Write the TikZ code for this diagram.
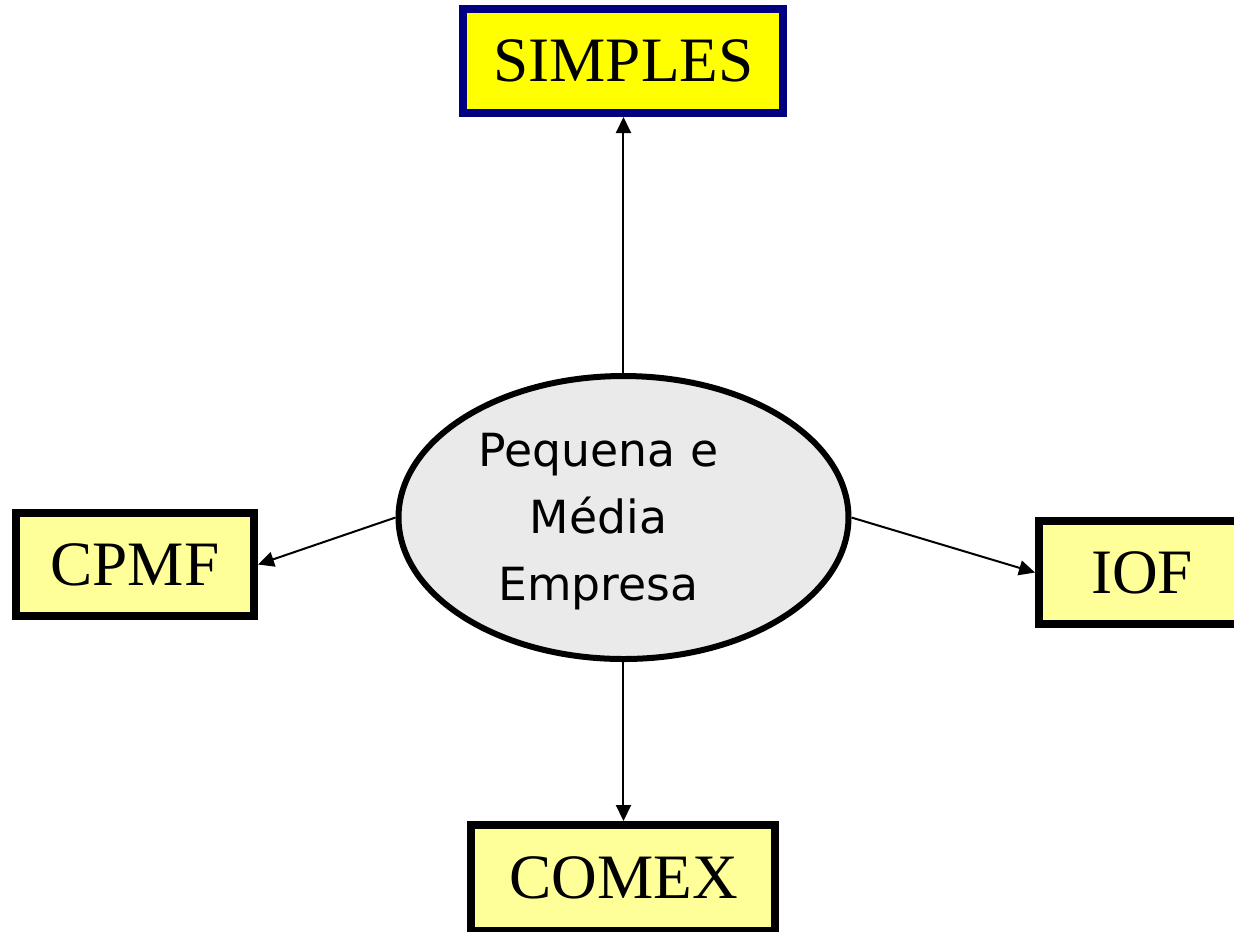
\documentclass[tikz,border=0pt]{standalone}
\usepackage{fontspec}
\setmainfont{Liberation Serif}
\newfontfamily\handfont{DejaVu Sans}
\usetikzlibrary{positioning,calc,arrows.meta,shapes.geometric}
\definecolor{paleyellow}{HTML}{FFFF99}
\definecolor{brightyellow}{HTML}{FFFF00}
\definecolor{navyblue}{HTML}{000080}
\definecolor{ovalgray}{HTML}{EAEAEA}

\begin{document}
\begin{tikzpicture}[>={Triangle[length=0.16cm,width=0.15cm]},
  tax box/.style={rectangle,draw=black,fill=paleyellow,line width=0.08cm,inner sep=0pt,font=\fontsize{18}{20}\selectfont},
  core oval/.style={ellipse,draw=black,fill=ovalgray,line width=0.06cm,inner sep=0pt,minimum width=4.5cm,minimum height=2.83cm},
  link/.style={->,line width=0.02cm}]
  \useasboundingbox (0,0) rectangle (12.34,-9.31);
% nodes
  \node[core oval] (pme) at (6.235,-5.175) {};
  \node[align=center,font=\handfont\fontsize{13}{19}\selectfont] (pmetext) at ([xshift=-0.25cm,yshift=-0.04cm]pme.center) {Pequena e\\Média\\Empresa};
  \node[tax box,draw=navyblue,fill=brightyellow,minimum width=3.2cm,minimum height=1.04cm] (simples) at (6.235,-0.61) {SIMPLES};
  \node[tax box,minimum width=2.38cm,minimum height=1.03cm] (cpmf) at (1.35,-5.645) {CPMF};
  \node[tax box,minimum width=2.06cm,minimum height=1.03cm] (iof) at (11.42,-5.725) {IOF};
  \node[tax box,minimum width=3.04cm,minimum height=1.06cm] (comex) at (6.235,-8.78) {COMEX};
  % edges
  \draw[link] (pme.north) -- (simples.south);
  \draw[link] (pme.west) -- (cpmf.east);
  \draw[link] (pme.east) -- (iof.west);
  \draw[link] (pme.south) -- (comex.north);
\end{tikzpicture}
\end{document}
